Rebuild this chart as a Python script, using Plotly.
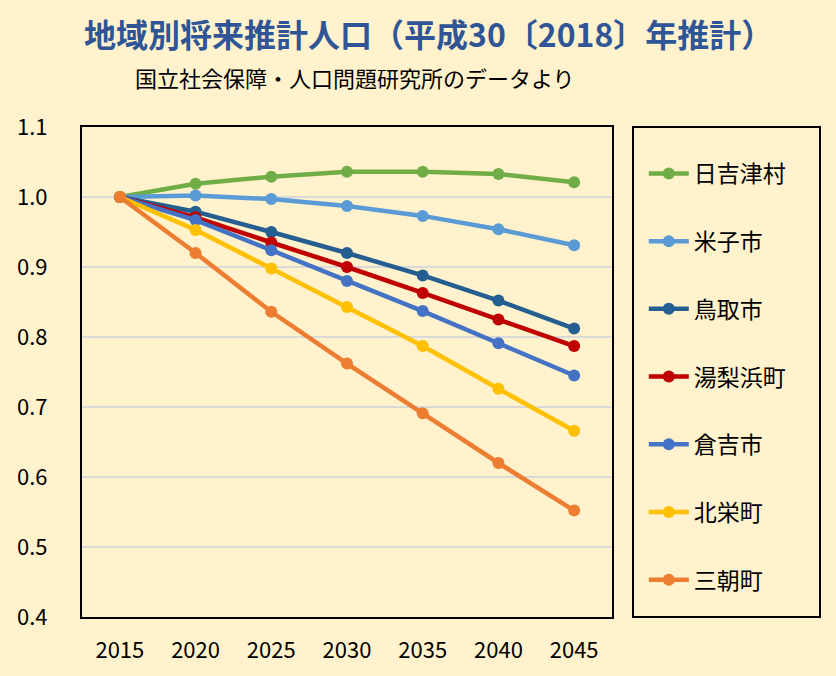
import plotly.graph_objects as go

years = ["2015", "2020", "2025", "2030", "2035", "2040", "2045"]

hiezu = [1.000, 1.019, 1.029, 1.036, 1.036, 1.033, 1.021]
yonago = [1.000, 1.002, 0.997, 0.987, 0.973, 0.954, 0.931]
tottori = [1.000, 0.979, 0.950, 0.920, 0.888, 0.852, 0.812]
yurihama = [1.000, 0.971, 0.935, 0.900, 0.863, 0.825, 0.787]
kurayoshi = [1.000, 0.967, 0.924, 0.880, 0.837, 0.791, 0.745]
hokuei = [1.000, 0.953, 0.898, 0.843, 0.787, 0.726, 0.666]
misasa = [1.000, 0.920, 0.836, 0.762, 0.691, 0.620, 0.552]

names = ["日吉津村", "米子市", "鳥取市", "湯梨浜町", "倉吉市", "北栄町", "三朝町"]
series = [hiezu, yonago, tottori, yurihama, kurayoshi, hokuei, misasa]
colors = ["#70AD47", "#5B9BD5", "#255E91", "#C00000", "#4472C4", "#FFC000", "#ED7D31"]

BG = "#FFF2CC"
FONT = "Noto Sans CJK JP"

fig = go.Figure()
for i in range(len(names)):
    fig.add_trace(go.Scatter(
        x=years, y=series[i], name=names[i], mode="lines+markers",
        line=dict(color=colors[i], width=4.5),
        marker=dict(color=colors[i], size=12),
        legendgroup=f"g{i}",
    ))

fig.update_layout(
    width=836, height=676,
    paper_bgcolor=BG, plot_bgcolor=BG,
    margin=dict(l=82, r=224, t=127, b=59),
    font=dict(family=FONT, color="#000000", size=22),
    showlegend=True,
    legend=dict(
        x=1.060, xanchor="left", y=0.949, yanchor="top",
        bgcolor="rgba(0,0,0,0)", borderwidth=0,
        font=dict(size=23, family=FONT),
        tracegroupgap=34.8, itemwidth=40,
        traceorder="grouped",
    ),
    xaxis=dict(
        type="category", range=[-0.5, 6.5],
        showgrid=False, showline=True, mirror=True,
        linecolor="#000000", linewidth=2, ticks="",
        tickfont=dict(size=22), ticklabelstandoff=13,
    ),
    yaxis=dict(
        range=[0.4, 1.1], dtick=0.1, tickformat=".1f",
        showgrid=True, gridcolor="#D9D9D9", gridwidth=2,
        showline=True, mirror=True, linecolor="#000000", linewidth=2,
        ticks="", zeroline=False, tickfont=dict(size=22), ticklabelstandoff=28,
    ),
    shapes=[dict(
        type="rect", xref="paper", yref="paper",
        x0=(633 - 82) / 530, x1=(820 - 82) / 530, y0=0, y1=1,
        line=dict(color="#000000", width=2), fillcolor="rgba(0,0,0,0)",
    )],
    annotations=[
        dict(text="<b>地域別将来推計人口（平成30〔2018〕年推計）</b>",
             xref="paper", yref="paper", x=(428 - 82) / 530, y=(617 - 33) / 490,
             xanchor="center", yanchor="middle", showarrow=False,
             font=dict(size=32, color="#2F5597", family=FONT)),
        dict(text="国立社会保障・人口問題研究所のデータより",
             xref="paper", yref="paper", x=(355 - 82) / 530, y=(617 - 77) / 490,
             xanchor="center", yanchor="middle", showarrow=False,
             font=dict(size=22, color="#000000", family=FONT)),
    ],
)

fig.write_html("out.html", config={"displayModeBar": False},
               post_script="document.body.style.margin='0';")
